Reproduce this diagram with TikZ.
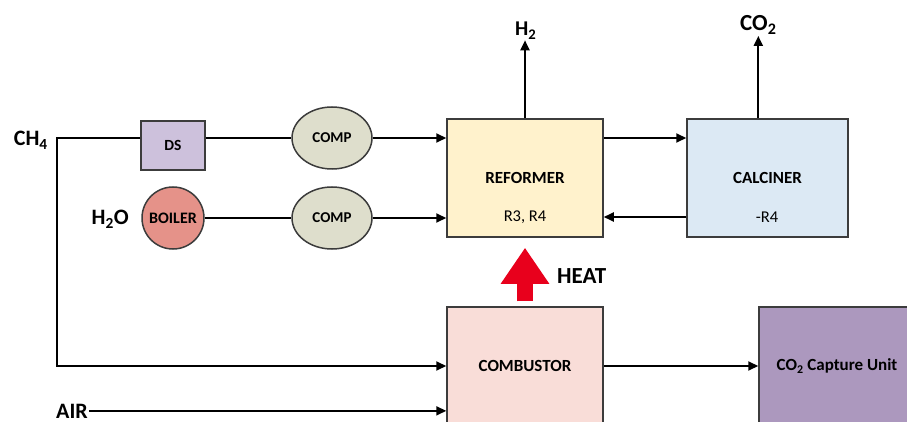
\documentclass[tikz,border=0pt]{standalone}
\usepackage{fontspec}
\setmainfont{Carlito}
\usetikzlibrary{positioning,arrows.meta,shapes.geometric}
\definecolor{boxline}{RGB}{60,60,60}
\definecolor{dsfill}{RGB}{205,193,220}
\definecolor{compfill}{RGB}{222,222,204}
\definecolor{boilerfill}{RGB}{229,146,137}
\definecolor{reformerfill}{RGB}{255,242,204}
\definecolor{calcinerfill}{RGB}{220,233,244}
\definecolor{combfill}{RGB}{249,221,216}
\definecolor{capturefill}{RGB}{172,152,190}
\definecolor{heatred}{RGB}{232,0,28}

\begin{document}
\begin{tikzpicture}[
    x=1pt, y=-1pt,
    unit/.style={
        rectangle,
        draw=boxline, line width=1.5pt,
        minimum width=156pt, minimum height=118pt,
        inner sep=0pt,
        font=\fontsize{17}{19}\selectfont\bfseries
    },
    subtext/.style={font=\fontsize{16.5}{18}\selectfont},
    comp/.style={
        ellipse,
        draw=boxline, line width=1.5pt, fill=compfill,
        minimum width=80pt, minimum height=62pt,
        inner sep=0pt,
        font=\fontsize{15}{17}\selectfont\bfseries
    },
    stream/.style={inner sep=1pt, font=\fontsize{22}{25}\selectfont\bfseries},
    pipe/.style={line width=2pt},
    arrow/.style={-{Triangle[length=10pt,width=9pt]}, line width=2pt},
    heat/.style={-{Triangle[length=36pt,width=46pt]}, line width=16pt, heatred}
]
\useasboundingbox (0,0) rectangle (907,422);
\clip (0,0) rectangle (907,422);

% Feed preparation
\node[rectangle, draw=boxline, line width=1.5pt, fill=dsfill,
      minimum width=64pt, minimum height=49pt, inner sep=0pt,
      font=\fontsize{15.5}{17}\selectfont\bfseries] (ds) at (173,145.5) {DS};
\node[circle, draw=boxline, line width=1.5pt, fill=boilerfill,
      minimum size=62pt, inner sep=0pt,
      font=\fontsize{16}{18}\selectfont\bfseries] (boiler) at (173,218) {BOILER};
\node[comp] (comp1) at (332,138) {COMP};
\node[comp] (comp2) at (332,218) {COMP};

% Reactors
\node[unit, fill=reformerfill] (reformer) at (525,178) {REFORMER};
\node[subtext] (reformerrx) at (525,217) {R3, R4};
\node[unit, fill=calcinerfill, minimum width=161pt] (calciner) at (767.5,178) {CALCINER};
\node[subtext] (calcinerrx) at (767,217) {-R4};
\node[unit, fill=combfill] (combustor) at (525,366) {COMBUSTOR};
\node[unit, fill=capturefill] (capture) at (837,366) {CO\textsubscript{2} Capture Unit};

% Stream labels
\node[stream, anchor=base east] (ch4) at (49,146) {CH\textsubscript{4}};
\node[stream, anchor=base east] (h2o) at (130,225) {H\textsubscript{2}O};
\node[stream, anchor=base west] (air) at (55,418) {AIR};
\node[stream, anchor=base west, font=\fontsize{23}{26}\selectfont\bfseries] (heatlabel) at (556,283) {HEAT};
\node[stream, anchor=base west, font=\fontsize{21}{24}\selectfont\bfseries] (h2) at (514,36) {H\textsubscript{2}};
\node[stream, anchor=base west, font=\fontsize{23}{26}\selectfont\bfseries] (co2) at (739,31) {CO\textsubscript{2}};
\coordinate (ch4bend) at (57,138);

% Connections
\draw[arrow] (ds.west |- ch4bend) -- (ch4bend) -- (ch4bend |- combustor.west) -- (combustor.west);
\draw[pipe] (ds.east |- ch4bend) -- (comp1.west);
\draw[arrow] (comp1.east) -- (reformer.west |- comp1.east);
\draw[pipe] (boiler.east) -- (comp2.west);
\draw[arrow] (comp2.east) -- (reformer.west |- comp2.east);
\draw[arrow] (reformer.east |- comp1.east) -- (calciner.west |- comp1.east);
\draw[arrow] (calciner.west |- reformerrx) -- (reformer.east |- reformerrx);
\draw[arrow] (reformer.north) -- (reformer.north |- h2.south);
\draw[arrow] (co2.south |- calciner.north) -- (co2.south);
\draw[arrow] (combustor.east) -- (capture.west);
\draw[arrow] (air.east) -- (combustor.west |- air.east);
\draw[heat] ([yshift=5pt]combustor.north) -- ([yshift=-10pt]reformer.south);

\end{tikzpicture}
\end{document}
